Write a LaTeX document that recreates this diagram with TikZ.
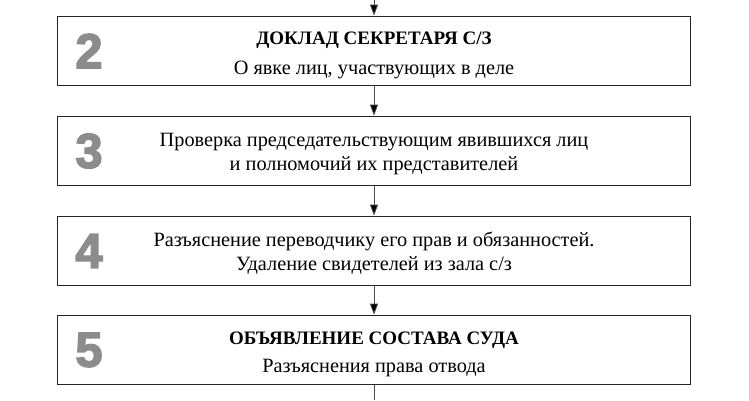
\documentclass[tikz,border=0pt]{standalone}
\usepackage{fontspec}
\setmainfont{Liberation Serif}
\newfontfamily\digitfont{Liberation Sans Bold}[FakeBold=3]
\usetikzlibrary{arrows.meta}
\begin{document}
\begin{tikzpicture}[x=1pt,y=1pt,
  box/.style={draw=black!85, line width=1.8pt, minimum width=633pt, minimum height=69pt, inner sep=0pt},
  num/.style={font=\digitfont\fontsize{49}{49}\selectfont, text=black!45, anchor=center, inner sep=0pt},
  ttl/.style={font=\bfseries\fontsize{19}{22}\selectfont, anchor=base, inner sep=0pt},
  txt/.style={font=\fontsize{20.3}{24}\selectfont, anchor=base, inner sep=0pt},
  arr/.style={draw=black!70, line width=0.8pt, -{Triangle[length=11pt,width=8pt,fill=black]}},
  lin/.style={draw=black!70, line width=0.8pt}
]
\useasboundingbox (0,0) rectangle (749,-400);
\fill[white] (0,0) rectangle (749,-400);

\node[box] (b2) at (374,-51) {};
\node[box] (b3) at (374,-151) {};
\node[box] (b4) at (374,-251) {};
\node[box] (b5) at (374,-350) {};

\node[num] (n2) at (89,-51) {2};
\node[num] (n3) at (89,-151) {3};
\node[num] (n4) at (89,-251) {4};
\node[num] (n5) at (89,-350) {5};

\node[ttl] (t2a) at (374,-44) {ДОКЛАД СЕКРЕТАРЯ С/З};
\node[txt] (t2b) at (374,-74) {О явке лиц, участвующих в деле};

\node[txt] (t3a) at (374,-146) {Проверка председательствующим явившихся лиц};
\node[txt] (t3b) at (374,-170) {и полномочий их представителей};

\node[txt] (t4a) at (374,-246) {Разъяснение переводчику его прав и обязанностей.};
\node[txt] (t4b) at (374,-270) {Удаление свидетелей из зала с/з};

\node[ttl] (t5a) at (374,-344) {ОБЪЯВЛЕНИЕ СОСТАВА СУДА};
\node[txt] (t5b) at (374,-372) {Разъяснения права отвода};

\coordinate (top) at (374,0);
\coordinate (bot) at (374,-400);
\draw[arr] (top) -- (b2.north);
\draw[arr] (b2.south) -- (b3.north);
\draw[arr] (b3.south) -- (b4.north);
\draw[arr] (b4.south) -- (b5.north);
\draw[lin] (b5.south) -- (bot);
\end{tikzpicture}
\end{document}
